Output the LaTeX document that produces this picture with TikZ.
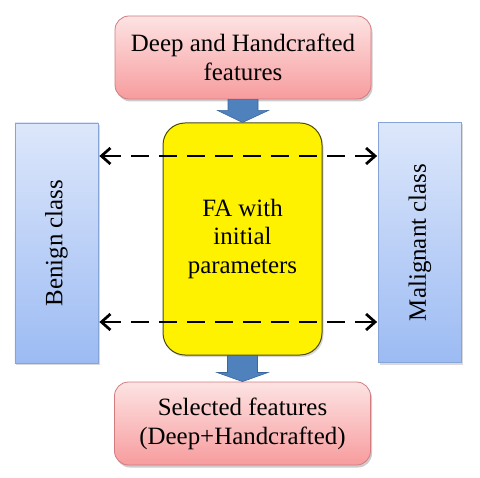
\documentclass[tikz,border=0pt]{standalone}
\usepackage{fontspec}
\setmainfont{Liberation Serif}
\usetikzlibrary{arrows.meta,shadows,calc}
\definecolor{pinktop}{HTML}{FDE3E3}
\definecolor{pinkbot}{HTML}{F79C9E}
\definecolor{pinkline}{HTML}{D27C80}
\definecolor{bluetop}{HTML}{DDE7FB}
\definecolor{bluebot}{HTML}{9CBBF3}
\definecolor{blueline}{HTML}{86A5D6}
\definecolor{arrowfill}{HTML}{4F81BD}
\definecolor{arrowline}{HTML}{3B679C}
\definecolor{yelline}{HTML}{4A4A10}
\tikzset{
  pinkbox/.style={draw=pinkline, line width=0.8pt, rounded corners=14bp,
    top color=pinktop, bottom color=pinkbot, minimum width=256bp, minimum height=83bp,
    align=center, font=\fontsize{25}{29}\selectfont, inner sep=0pt,
    drop shadow={shadow xshift=1.5bp, shadow yshift=-2.5bp, opacity=0.4}},
  classbox/.style={draw=blueline, line width=0.8pt, top color=bluetop, bottom color=bluebot,
    minimum width=83bp, minimum height=240bp, inner sep=0pt,
    drop shadow={shadow xshift=1.5bp, shadow yshift=-2bp, opacity=0.3}},
  yellowbox/.style={draw=yelline, line width=1pt, fill=yellow, rounded corners=22bp,
    minimum width=159bp, minimum height=232bp, align=center,
    font=\fontsize{25}{28.5}\selectfont, inner sep=0pt,
    drop shadow={shadow xshift=1.5bp, shadow yshift=-2bp, opacity=0.3}},
  classtext/.style={font=\fontsize{25}{29}\selectfont, rotate=90},
  blockarrow/.style={fill=arrowfill, draw=arrowline, line width=0.6pt, line join=miter},
  dasharrow/.style={draw=black, line width=2.7bp, dash pattern=on 18bp off 10bp,
    {Straight Barb[length=9bp,width=16bp,line width=2.7bp]}-{Straight Barb[length=9bp,width=16bp,line width=2.7bp]}}
}
\begin{document}
\begin{tikzpicture}[x=1bp,y=-1bp]
\useasboundingbox (0,0) rectangle (480,478);
% nodes
\node[pinkbox] (top) at (243,57.5) {Deep and Handcrafted\\features};
\node[yellowbox] (fa) at (242.5,239) {FA with\\initial\\parameters};
\node[pinkbox] (bot) at (242.5,423.5) {Selected features\\(Deep+Handcrafted)};
\node[classbox] (ben) at (56.5,243) {};
\node[classtext] at (ben.center) {Benign class};
\node[classbox] (mal) at (420,242.5) {};
\node[classtext] at (mal.center) {Malignant class};
% block arrows
\draw[blockarrow] ($(top.south)+(-15,0)$) -- ($(top.south)+(15,0)$) -- ++(0,11) -- ++(10.5,0)
   -- (fa.north) -- ($(top.south)+(-25.5,11)$) -- ++(10.5,0) -- cycle;
\draw[blockarrow] ($(fa.south)+(-15,0)$) -- ($(fa.south)+(15,0)$) -- ++(0,17) -- ++(10.5,0)
   -- (bot.north) -- ($(fa.south)+(-25.5,17)$) -- ++(10.5,0) -- cycle;
% dashed arrows
\coordinate (l1) at (ben.east |- 0,156);
\coordinate (r1) at (mal.west |- 0,156);
\coordinate (l2) at (ben.east |- 0,322);
\coordinate (r2) at (mal.west |- 0,322);
\draw[dasharrow] ($(l1)+(1,0)$) -- ($(r1)+(-1,0)$);
\draw[dasharrow] ($(l2)+(1,0)$) -- ($(r2)+(-1,0)$);
\end{tikzpicture}
\end{document}
